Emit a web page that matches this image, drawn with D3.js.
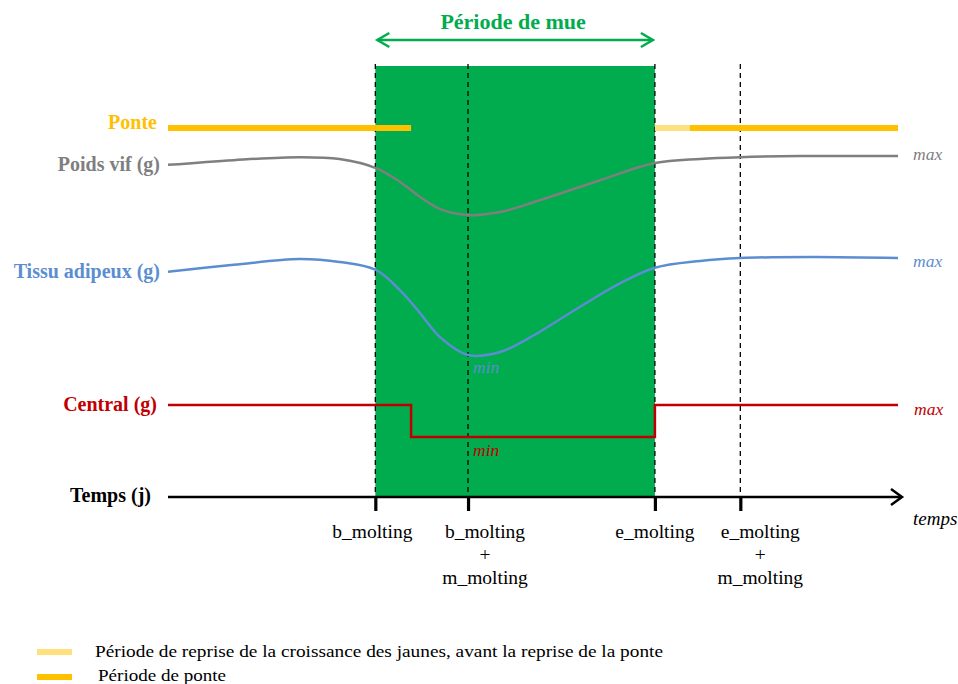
<!DOCTYPE html>
<html><head><meta charset="utf-8">
<script src="https://cdn.jsdelivr.net/npm/d3@7"></script>
<style>body{margin:0;background:#fff}svg{display:block}</style>
</head><body><svg id="c" width="958" height="684" font-family="'Liberation Serif', 'Times New Roman', serif"></svg>
<script>
// ---- data (time in arbitrary days 0..100, levels normalised 0=min .. 1=max) ----
const keyTimes = [28.4, 41.1, 66.7, 78.4];
const keyLabels = [["b_molting"], ["b_molting", "+", "m_molting"], ["e_molting"], ["e_molting", "+", "m_molting"]];
const moltPeriod = [28.4, 66.7];
const ponteSegments = [{a: 0, b: 33.3, kind: "ponte"}, {a: 66.7, b: 71.5, kind: "reprise"}, {a: 71.5, b: 100, kind: "ponte"}];
const poidsT = [0, 9, 18, 23.5, 28.4, 31.8, 34.5, 37.3, 41.1, 45.5, 50.9, 59.2, 66.7, 72.9, 78.4, 86.6, 100];
const poidsV = [0.85, 0.93, 0.98, 0.95, 0.80, 0.56, 0.31, 0.10, 0, 0.05, 0.25, 0.59, 0.88, 0.95, 0.98, 1.0, 1.0];
const tissuT = [0, 9, 18, 23.5, 28.4, 31.8, 34.5, 37.3, 41.1, 45.5, 49.6, 56.4, 61.9, 66.7, 72.9, 78.4, 88.4, 100];
const tissuV = [0.85, 0.92, 0.98, 0.95, 0.87, 0.66, 0.43, 0.18, 0, 0.03, 0.18, 0.49, 0.73, 0.89, 0.96, 0.99, 1.0, 0.99];
const centralT = [0, 33.3, 66.7, 100];
const centralV = [1, 0, 1, 1];
const seriesNames = ["Poids vif (g)", "Tissu adipeux (g)", "Central (g)"];
const legendLabels = ["Période de reprise de la croissance des jaunes, avant la reprise de la ponte", "Période de ponte"];

const svg = d3.select("#c");
const x = d3.scaleLinear().domain([0, 100]).range([168, 898]);
const rows = {
  poids: d3.scaleLinear().domain([0, 1]).range([215, 156]),
  tissu: d3.scaleLinear().domain([0, 1]).range([355, 257]),
  central: d3.scaleLinear().domain([0, 1]).range([437, 405])
};
const GREEN = "#00AC4D", YEL = "#FFC000", LYEL = "#FFE07F", GREY = "#7F7F7F", BLUE = "#5B8ED0", RED = "#C00000";
const axisY = 497, topY = 64;

svg.append("rect").attr("x", x(moltPeriod[0])).attr("y", topY + 2)
  .attr("width", x(moltPeriod[1]) - x(moltPeriod[0])).attr("height", axisY - topY - 2).attr("fill", GREEN);

const ay = 40;
svg.append("line").attr("x1", x(moltPeriod[0]) + 2).attr("x2", x(moltPeriod[1]) - 2).attr("y1", ay).attr("y2", ay)
  .attr("stroke", GREEN).attr("stroke-width", 2.5);
[[x(moltPeriod[0]) + 2, 1], [x(moltPeriod[1]) - 2, -1]].forEach(([px, d]) => {
  svg.append("path").attr("d", `M${px + d * 12},${ay - 7}L${px},${ay}L${px + d * 12},${ay + 7}`)
    .attr("fill", "none").attr("stroke", GREEN).attr("stroke-width", 2.5);
});
svg.append("text").attr("x", (x(moltPeriod[0]) + x(moltPeriod[1])) / 2 - 2).attr("y", 29).attr("text-anchor", "middle")
  .attr("font-weight", "bold").attr("font-size", 22).attr("fill", GREEN).text("Période de mue");

svg.selectAll(".vd").data(keyTimes).join("line").attr("class", "vd")
  .attr("x1", d => x(d)).attr("x2", d => x(d)).attr("y1", topY).attr("y2", axisY)
  .attr("stroke", "#000").attr("stroke-width", 1.3).attr("stroke-dasharray", "5,4");

svg.selectAll(".pt").data(ponteSegments).join("line").attr("class", "pt")
  .attr("x1", d => x(d.a)).attr("x2", d => x(d.b)).attr("y1", 128).attr("y2", 128)
  .attr("stroke", d => d.kind === "ponte" ? YEL : LYEL).attr("stroke-width", 6);

const line = (scale, curve) => d3.line().x(d => x(d[0])).y(d => scale(d[1])).curve(curve);
svg.append("path").attr("d", line(rows.poids, d3.curveCatmullRom.alpha(0.5))(d3.zip(poidsT, poidsV)))
  .attr("fill", "none").attr("stroke", GREY).attr("stroke-width", 2.5);
svg.append("path").attr("d", line(rows.tissu, d3.curveCatmullRom.alpha(0.5))(d3.zip(tissuT, tissuV)))
  .attr("fill", "none").attr("stroke", BLUE).attr("stroke-width", 2.5);
svg.append("path").attr("d", line(rows.central, d3.curveStepAfter)(d3.zip(centralT, centralV)))
  .attr("fill", "none").attr("stroke", RED).attr("stroke-width", 2.5);

const lab = (t, xx, yy, col) => svg.append("text").attr("x", xx).attr("y", yy).attr("text-anchor", "end")
  .attr("font-weight", "bold").attr("font-size", 20).attr("fill", col).text(t);
lab("Ponte", 157, 129, YEL);
lab(seriesNames[0], 160, rows.poids(poidsV[0]) + 6, GREY);
lab(seriesNames[1], 160, rows.tissu(tissuV[0]) + 6, BLUE);
lab(seriesNames[2], 157, rows.central(1) + 6, RED);
lab("Temps (j)", 151, axisY + 5, "#000");

const it = (t, xx, yy, col) => svg.append("text").attr("x", xx).attr("y", yy).attr("font-style", "italic")
  .attr("font-size", 17.5).attr("fill", col).text(t);
it("max", 913, rows.poids(1) + 4, GREY);
it("max", 913, rows.tissu(1) + 10, BLUE);
it("max", 914, rows.central(1) + 10, RED);
it("min", x(keyTimes[1]) + 5, rows.tissu(0) + 18, BLUE);
it("min", x(keyTimes[1]) + 5, rows.central(0) + 19, RED);

const axis = d3.axisBottom(x).tickValues(keyTimes).tickSize(14).tickSizeOuter(0).tickFormat("");
const ag = svg.append("g").attr("transform", `translate(0,${axisY})`).call(axis);
ag.select(".domain").remove();
ag.selectAll(".tick line").attr("stroke", "#000").attr("stroke-width", 3.2);
svg.append("line").attr("x1", x(0)).attr("x2", x(100) + 4).attr("y1", axisY).attr("y2", axisY)
  .attr("stroke", "#000").attr("stroke-width", 2.5);
svg.append("path").attr("d", `M${x(100) - 7},${axisY - 8}L${x(100) + 4},${axisY}L${x(100) - 7},${axisY + 8}`)
  .attr("fill", "none").attr("stroke", "#000").attr("stroke-width", 2.5);
const offs = [-3, 17, 0, 20];
keyTimes.forEach((t, i) => {
  const tx = svg.append("text").attr("text-anchor", "middle").attr("font-size", 19.5).attr("fill", "#000");
  keyLabels[i].forEach((s, j) => tx.append("tspan").attr("x", x(t) + offs[i]).attr("y", 538 + j * 23).text(s));
});
svg.append("text").attr("x", 913).attr("y", 525).attr("font-style", "italic").attr("font-size", 19).text("temps");

[[LYEL, 652, 657, 95, 568], [YEL, 677, 681, 98, 128]].forEach(([c, ly, ty, tx, w], i) => {
  svg.append("line").attr("x1", 37).attr("x2", 72).attr("y1", ly).attr("y2", ly).attr("stroke", c).attr("stroke-width", 6);
  svg.append("text").attr("x", tx).attr("y", ty).attr("font-size", 17).attr("fill", "#000")
    .attr("textLength", w).attr("lengthAdjust", "spacingAndGlyphs").text(legendLabels[i]);
});
</script></body></html>
